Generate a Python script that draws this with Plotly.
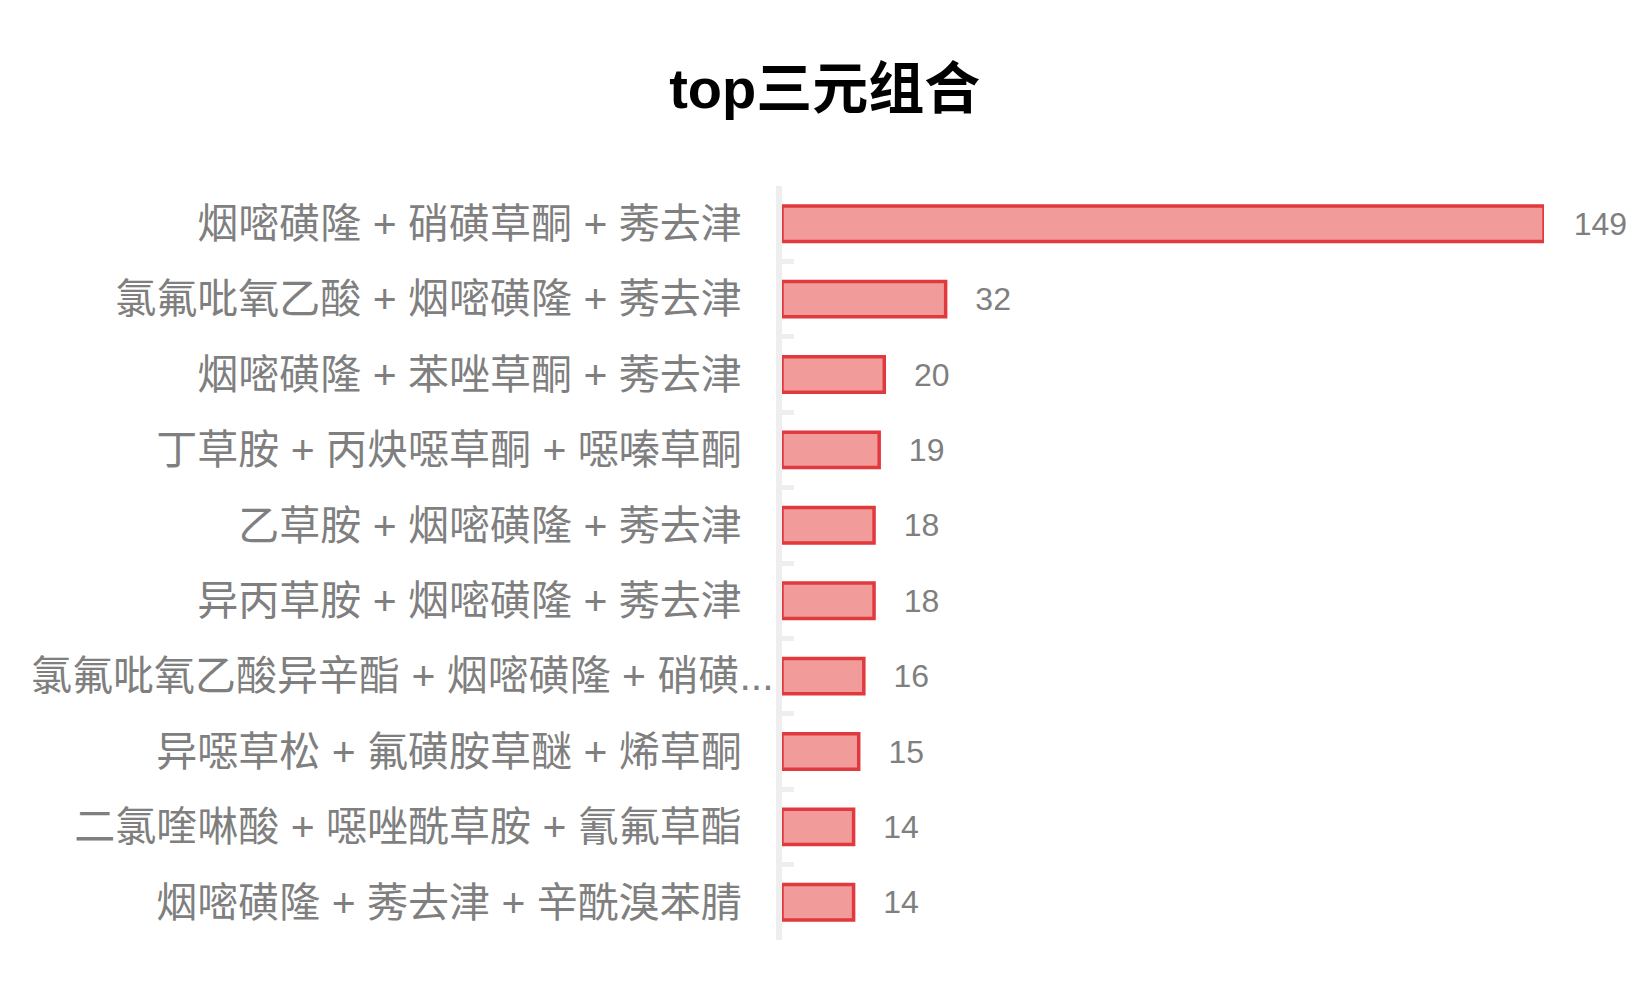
import plotly.graph_objects as go

# ── 数据 ───────────────────────────────────────────────
combos = [
    "烟嘧磺隆 + 硝磺草酮 + 莠去津",
    "氯氟吡氧乙酸 + 烟嘧磺隆 + 莠去津",
    "烟嘧磺隆 + 苯唑草酮 + 莠去津",
    "丁草胺 + 丙炔噁草酮 + 噁嗪草酮",
    "乙草胺 + 烟嘧磺隆 + 莠去津",
    "异丙草胺 + 烟嘧磺隆 + 莠去津",
    "氯氟吡氧乙酸异辛酯 + 烟嘧磺隆 + 硝磺...",
    "异噁草松 + 氟磺胺草醚 + 烯草酮",
    "二氯喹啉酸 + 噁唑酰草胺 + 氰氟草酯",
    "烟嘧磺隆 + 莠去津 + 辛酰溴苯腈",
]
counts = [149, 32, 20, 19, 18, 18, 16, 15, 14, 14]

title = "top三元组合"

GRAY = "#7f7f7f"
AXIS_GRAY = "#eeeeee"
LABEL_FONT = dict(family="Liberation Sans, Noto Sans CJK SC, sans-serif", size=41, color=GRAY)

fig = go.Figure(
    go.Bar(
        x=counts,
        y=combos,
        orientation="h",
        marker=dict(color="#f29b9b", line=dict(color="#e0393e", width=3.5)),
        text=counts,
        texttemplate="\u00a0\u00a0\u00a0%{x}",
        textposition="outside",
        textfont=dict(family="Liberation Sans, Arial, sans-serif", size=32, color=GRAY),
        constraintext="none",
        cliponaxis=False,
        hoverinfo="skip",
    )
)

# 被截断的长标签（以 ... 结尾）在原图中溢出到轴线旁，单独用注释画
ticktext = []
for name in combos:
    if name.endswith("..."):
        ticktext.append("")
        fig.add_annotation(
            text=name, y=name, yref="y", x=0, xref="paper",
            xanchor="right", xshift=-6, showarrow=False, font=LABEL_FONT,
        )
    else:
        ticktext.append(name)

fig.update_layout(
    width=1650,
    height=990,
    paper_bgcolor="white",
    plot_bgcolor="white",
    showlegend=False,
    bargap=0.53,
    margin=dict(l=774, r=114, t=178, b=58),
    title=dict(
        text=f"<b>{title}</b>",
        x=0.495,
        xref="container",
        xanchor="center",
        y=1 - 80 / 990,
        yref="container",
        yanchor="middle",
        font=dict(family="Liberation Sans, Noto Sans CJK SC, sans-serif", size=56, color="#000000"),
    ),
)

fig.update_xaxes(visible=False, range=[0, 149], fixedrange=True, automargin=False)
fig.update_yaxes(
    autorange="reversed",
    automargin=False,
    showgrid=False,
    zeroline=False,
    showline=True,
    linecolor=AXIS_GRAY,
    linewidth=6,
    ticks="inside",
    tickson="boundaries",
    ticklen=12,
    tickwidth=5,
    tickcolor=AXIS_GRAY,
    ticklabelstandoff=26,
    tickmode="array",
    tickvals=combos,
    ticktext=ticktext,
    tickfont=LABEL_FONT,
)

fig.write_html("out.html")
